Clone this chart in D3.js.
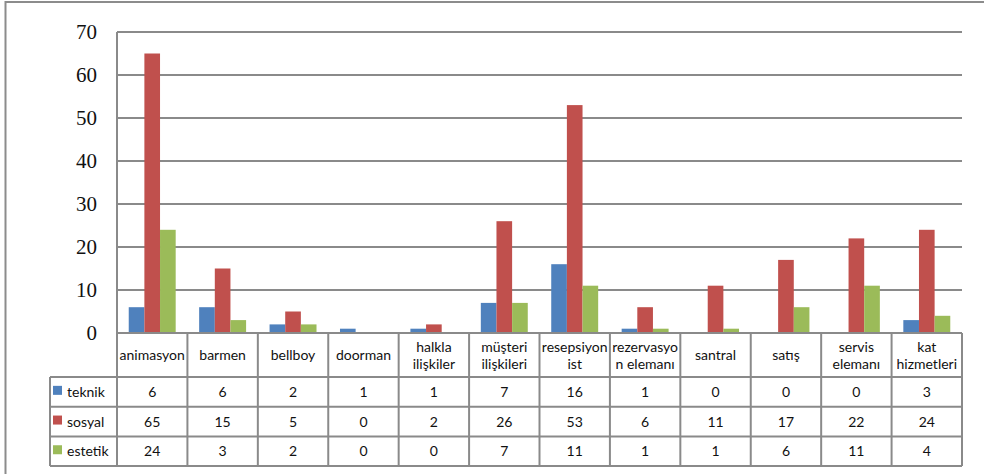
<!DOCTYPE html>
<html>
<head>
<meta charset="utf-8">
<script src="https://cdn.jsdelivr.net/npm/d3@7"></script>
<style>
  html, body { margin: 0; padding: 0; background: #fff; }
  svg { display: block; }
</style>
</head>
<body>
<svg id="chart" width="984" height="474"></svg>
<script>
// Job categories (table header); "\n" marks a line break in the header cell
const categories = [
  "animasyon", "barmen", "bellboy", "doorman", "halkla\nilişkiler",
  "müşteri\nilişkileri", "resepsiyon\nist", "rezervasyo\nn elemanı",
  "santral", "satış", "servis\nelemanı", "kat\nhizmetleri"
];
const seriesNames = ["teknik", "sosyal", "estetik"];
const teknik  = [6, 6, 2, 1, 1, 7, 16, 1, 0, 0, 0, 3];
const sosyal  = [65, 15, 5, 0, 2, 26, 53, 6, 11, 17, 22, 24];
const estetik = [24, 3, 2, 0, 0, 7, 11, 1, 1, 6, 11, 4];
const yTicks  = [0, 10, 20, 30, 40, 50, 60, 70];

const seriesValues = [teknik, sosyal, estetik];
const colors = ["#4F81BD", "#C0504D", "#9BBB59"];
const gridColor = "#8a8a8a";

const svg = d3.select("#chart");

// Outer chart frame
svg.append("path")
  .attr("d", "M5.5,474 V2 H984")
  .attr("fill", "none").attr("stroke", "#8c8c8c").attr("stroke-width", 2);

const plotLeft = 117, plotRight = 962, plotTop = 32, baseY = 333;
const tableLeft = 50;
const headerBottom = 377;
const rowH = 29.7;

const x = d3.scaleBand().domain(d3.range(categories.length)).range([plotLeft, plotRight]);
const xs = d3.scaleBand().domain(d3.range(seriesNames.length))
  .range([0, x.bandwidth()]).paddingInner(0).paddingOuter(0.75);
const y = d3.scaleLinear().domain([0, 70]).range([baseY, plotTop]);

// Horizontal gridlines
svg.append("g").selectAll("line").data(yTicks.filter(t => t > 0)).join("line")
  .attr("x1", plotLeft).attr("x2", plotRight)
  .attr("y1", d => y(d)).attr("y2", d => y(d))
  .attr("stroke", gridColor).attr("stroke-width", 2);

// Y tick labels
svg.append("g").selectAll("text").data(yTicks).join("text")
  .attr("x", 97).attr("y", d => y(d) + 7)
  .attr("text-anchor", "end")
  .attr("font-family", "'Liberation Serif', serif")
  .attr("font-size", 21).attr("fill", "#111")
  .text(d => d);

// Bars
const groups = svg.append("g").selectAll("g").data(categories).join("g")
  .attr("transform", (d, i) => `translate(${x(i)},0)`);
groups.selectAll("rect")
  .data((d, i) => seriesValues.map((vals, s) => ({ s, v: vals[i] })))
  .join("rect")
  .attr("x", d => xs(d.s))
  .attr("width", xs.bandwidth())
  .attr("y", d => y(d.v))
  .attr("height", d => baseY - y(d.v))
  .attr("fill", d => colors[d.s]);

// Data table grid
const tableBottom = headerBottom + rowH * seriesNames.length;
const grid = svg.append("g").attr("stroke", gridColor).attr("stroke-width", 2).attr("fill", "none");
// left axis line through the header row
grid.append("line").attr("x1", plotLeft).attr("x2", plotLeft).attr("y1", plotTop).attr("y2", tableBottom);
// axis baseline / header top
grid.append("line").attr("x1", plotLeft).attr("x2", plotRight).attr("y1", baseY).attr("y2", baseY);
// column separators
d3.range(1, categories.length + 1).forEach(i => {
  const cx = i < categories.length ? x(i) : plotRight;
  grid.append("line").attr("x1", cx).attr("x2", cx).attr("y1", baseY).attr("y2", tableBottom);
});
// row lines
d3.range(seriesNames.length + 1).forEach(r => {
  const ry = headerBottom + r * rowH;
  grid.append("line").attr("x1", tableLeft).attr("x2", plotRight).attr("y1", ry).attr("y2", ry);
});
grid.append("line").attr("x1", tableLeft).attr("x2", tableLeft).attr("y1", headerBottom).attr("y2", tableBottom);

const font = "Lato, 'Open Sans', sans-serif";
const fs = 14;

// Header cells
svg.append("g").selectAll("text").data(categories).join("text")
  .attr("text-anchor", "middle")
  .attr("font-family", font).attr("font-size", fs).attr("fill", "#111")
  .each(function(d, i) {
    const lines = d.split("\n");
    const cx = x(i) + x.bandwidth() / 2;
    const midY = (baseY + headerBottom) / 2;
    const lh = 17;
    const t = d3.select(this);
    lines.forEach((ln, k) => {
      t.append("tspan").attr("x", cx)
        .attr("y", midY + 5 + (k - (lines.length - 1) / 2) * lh)
        .text(ln);
    });
  });

// Legend keys and series names
const rows = svg.append("g").selectAll("g").data(seriesNames).join("g")
  .attr("transform", (d, r) => `translate(0,${headerBottom + r * rowH})`);
rows.append("rect").attr("x", 53).attr("y", rowH / 2 - 6).attr("width", 9).attr("height", 9)
  .attr("fill", (d, r) => colors[r]);
rows.append("text").attr("x", 67).attr("y", rowH / 2 + 5)
  .attr("font-family", font).attr("font-size", fs).attr("fill", "#111")
  .text(d => d);

// Value cells
rows.selectAll("text.val")
  .data((d, r) => seriesValues[r].map((v, i) => ({ v, i })))
  .join("text").attr("class", "val")
  .attr("x", d => x(d.i) + x.bandwidth() / 2)
  .attr("y", rowH / 2 + 5)
  .attr("text-anchor", "middle")
  .attr("font-family", font).attr("font-size", fs).attr("fill", "#111")
  .text(d => d.v);
</script>
</body>
</html>
